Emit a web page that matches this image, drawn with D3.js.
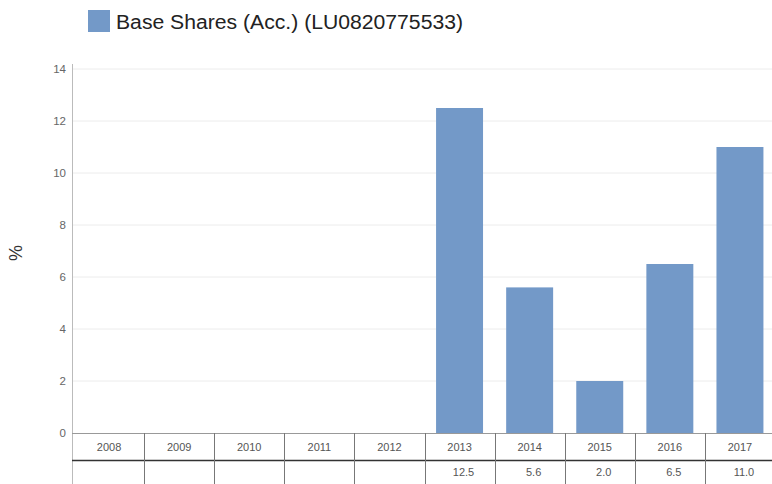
<!DOCTYPE html>
<html><head><meta charset="utf-8">
<script src="https://cdn.jsdelivr.net/npm/d3@7"></script>
<style>html,body{margin:0;padding:0;background:#fff;overflow:hidden}</style>
</head><body>
<svg id="c" width="772" height="484"></svg>
<script>
const years = ["2008","2009","2010","2011","2012","2013","2014","2015","2016","2017"];
const values = [null,null,null,null,null,12.5,5.6,2.0,6.5,11.0];
const valueLabels = ["","","","","","12.5","5.6","2.0","6.5","11.0"];
const yTicks = [0,2,4,6,8,10,12,14];
const seriesName = "Base Shares (Acc.) (LU0820775533)";

const svg = d3.select("#c");
const font = "'Liberation Sans', Arial, sans-serif";
const left = 72, colStart = 74, right = 775, y0 = 433, yTop = 69;
const x = d3.scaleBand().domain(years).range([colStart, right]).paddingInner(0.33).paddingOuter(0.165);
const xc = d3.scaleBand().domain(years).range([colStart, right]);
const y = d3.scaleLinear().domain([0,14]).range([y0, yTop]);

// gridlines
svg.append("g").selectAll("line").data(yTicks.filter(d=>d>0)).join("line")
  .attr("x1", left).attr("x2", 772).attr("y1", d=>y(d)).attr("y2", d=>y(d))
  .attr("stroke", "#ececec").attr("stroke-width", 1);

// y tick labels
svg.append("g").selectAll("text").data(yTicks).join("text")
  .attr("x", 66).attr("y", d=>y(d)+4).attr("text-anchor","end")
  .attr("font-family", font).attr("font-size", 11.5).attr("fill", "#666")
  .text(d=>d);

// bars
svg.append("g").selectAll("rect").data(years.map((yr,i)=>({yr, v: values[i]})).filter(d=>d.v!=null)).join("rect")
  .attr("x", d=>x(d.yr)).attr("width", x.bandwidth())
  .attr("y", d=>y(d.v)).attr("height", d=>y(0)-y(d.v))
  .attr("fill", "#7399c8");

// y axis line
svg.append("line").attr("x1", left+0.5).attr("x2", left+0.5).attr("y1", 64).attr("y2", 484)
  .attr("stroke", "#bbb");

// table
const tTop = 433, tMid = 460, tBot = 484;
svg.append("line").attr("x1", left).attr("x2", 772).attr("y1", tTop+0.5).attr("y2", tTop+0.5).attr("stroke", "#999");
svg.append("line").attr("x1", left).attr("x2", 772).attr("y1", tMid+0.5).attr("y2", tMid+0.5).attr("stroke", "#333").attr("stroke-width", 1.5);
svg.append("g").selectAll("line").data(years.slice(1)).join("line")
  .attr("x1", d=>Math.round(xc(d))+0.5).attr("x2", d=>Math.round(xc(d))+0.5)
  .attr("y1", tTop).attr("y2", tBot).attr("stroke", "#777");
svg.append("g").selectAll("text").data(years).join("text")
  .attr("x", d=>xc(d)+xc.bandwidth()/2).attr("y", 451).attr("text-anchor","middle")
  .attr("font-family", font).attr("font-size", 11).attr("fill", "#555").text(d=>d);
svg.append("g").selectAll("text").data(years.map((yr,i)=>({yr, t: valueLabels[i]}))).join("text")
  .attr("x", d=>xc(d.yr)+xc.bandwidth()/2+4).attr("y", 476).attr("text-anchor","middle")
  .attr("font-family", font).attr("font-size", 11).attr("fill", "#555").text(d=>d.t);

// y-axis title
svg.append("text").attr("transform", "translate(22,253) rotate(-90)").attr("text-anchor","middle")
  .attr("font-family", font).attr("font-size", 18).attr("fill", "#333").text("%");

// legend
svg.append("rect").attr("x", 88).attr("y", 10).attr("width", 22).attr("height", 22).attr("fill", "#7399c8");
svg.append("text").attr("x", 116).attr("y", 29).attr("font-family", font).attr("font-size", 19.5)
  .attr("textLength", 347).attr("lengthAdjust", "spacingAndGlyphs")
  .attr("fill", "#222").text(seriesName);
</script>
</body></html>
